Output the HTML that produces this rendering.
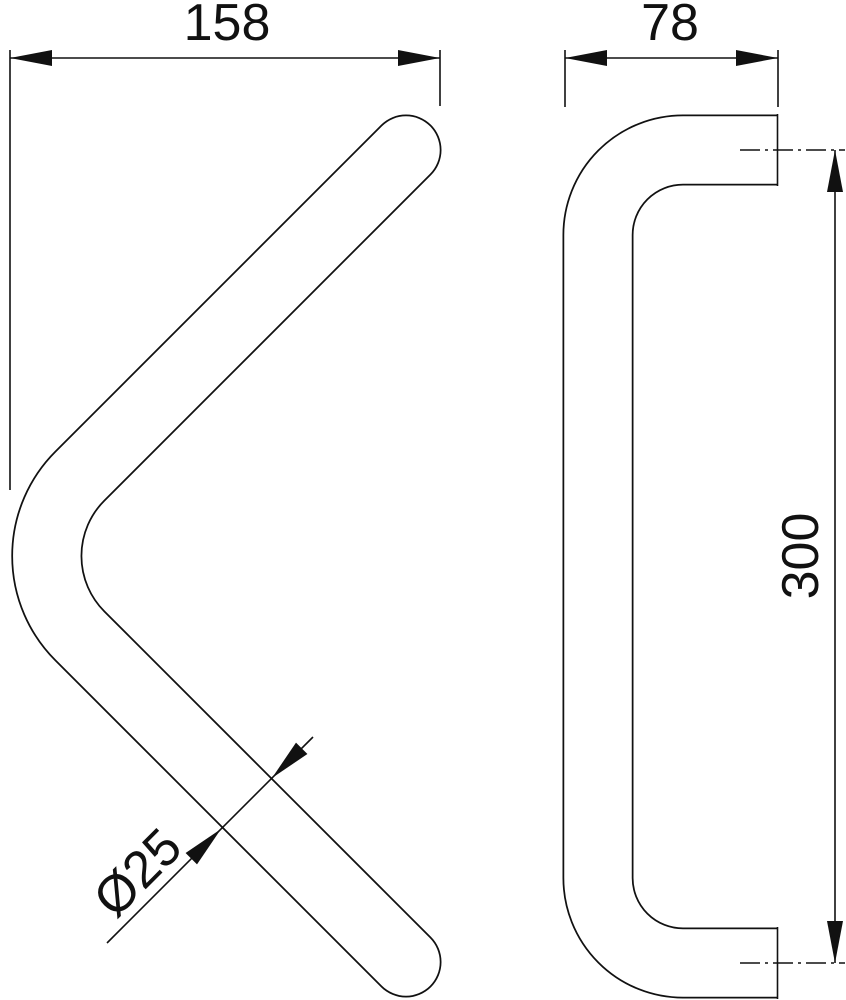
<!DOCTYPE html>
<html><head><meta charset="utf-8"><style>
html,body{margin:0;padding:0;background:#fff;}
svg{display:block;}
text{font-family:"Liberation Sans",sans-serif;fill:#111;}
</style></head><body>
<svg width="846" height="1000" viewBox="0 0 846 1000" xmlns="http://www.w3.org/2000/svg">
<g fill="none">
<path d="M406,150 L80,476 A113,113 0 0 0 80,636 L406,962" stroke="#111" stroke-width="71" stroke-linecap="round" stroke-linejoin="round"/>
<path d="M406,150 L80,476 A113,113 0 0 0 80,636 L406,962" stroke="#fff" stroke-width="67.5" stroke-linecap="round" stroke-linejoin="round"/>
<path d="M778,150 L683,150 A85,85 0 0 0 598,235 L598,878 A85,85 0 0 0 683,963 L778,963" stroke="#111" stroke-width="71"/>
<path d="M778,150 L683,150 A85,85 0 0 0 598,235 L598,878 A85,85 0 0 0 683,963 L778,963" stroke="#fff" stroke-width="67.5"/>
</g>
<g stroke="#111" stroke-width="1.6" fill="none">
<line x1="777.5" y1="114" x2="777.5" y2="186"/>
<line x1="777.5" y1="927" x2="777.5" y2="999"/>
<line x1="10" y1="58" x2="440" y2="58"/>
<line x1="10" y1="50" x2="10" y2="490"/>
<line x1="440" y1="50" x2="440" y2="106"/>
<line x1="565" y1="58" x2="778" y2="58"/>
<line x1="565" y1="50" x2="565" y2="107"/>
<line x1="778" y1="50" x2="778" y2="107"/>
<line x1="835" y1="150" x2="835" y2="963"/>
<line x1="740" y1="150" x2="845" y2="150" stroke-dasharray="20,5,3,5"/>
<line x1="740" y1="963" x2="845" y2="963" stroke-dasharray="20,5,3,5"/>
<line x1="107" y1="943" x2="313" y2="737"/>
</g>
<g fill="#111">
<polygon points="10,58 52,50 52,66"/>
<polygon points="440,58 398,50 398,66"/>
<polygon points="565,58 607,50 607,66"/>
<polygon points="778,58 736,50 736,66"/>
<polygon points="835,150 827,192 843,192"/>
<polygon points="835,963 827,921 843,921"/>
<polygon points="221,829 197,864.4 185.6,853"/>
<polygon points="272,778 307.4,754 296,742.6"/>
</g>
<text x="227" y="40" font-size="52" text-anchor="middle">158</text>
<text x="670" y="40" font-size="52" text-anchor="middle">78</text>
<text x="0" y="0" font-size="52" text-anchor="middle" transform="translate(818,556) rotate(-90)">300</text>
<text x="0" y="0" font-size="52" text-anchor="middle" transform="translate(150,885) rotate(-45)">Ø25</text>
</svg>
</body></html>
